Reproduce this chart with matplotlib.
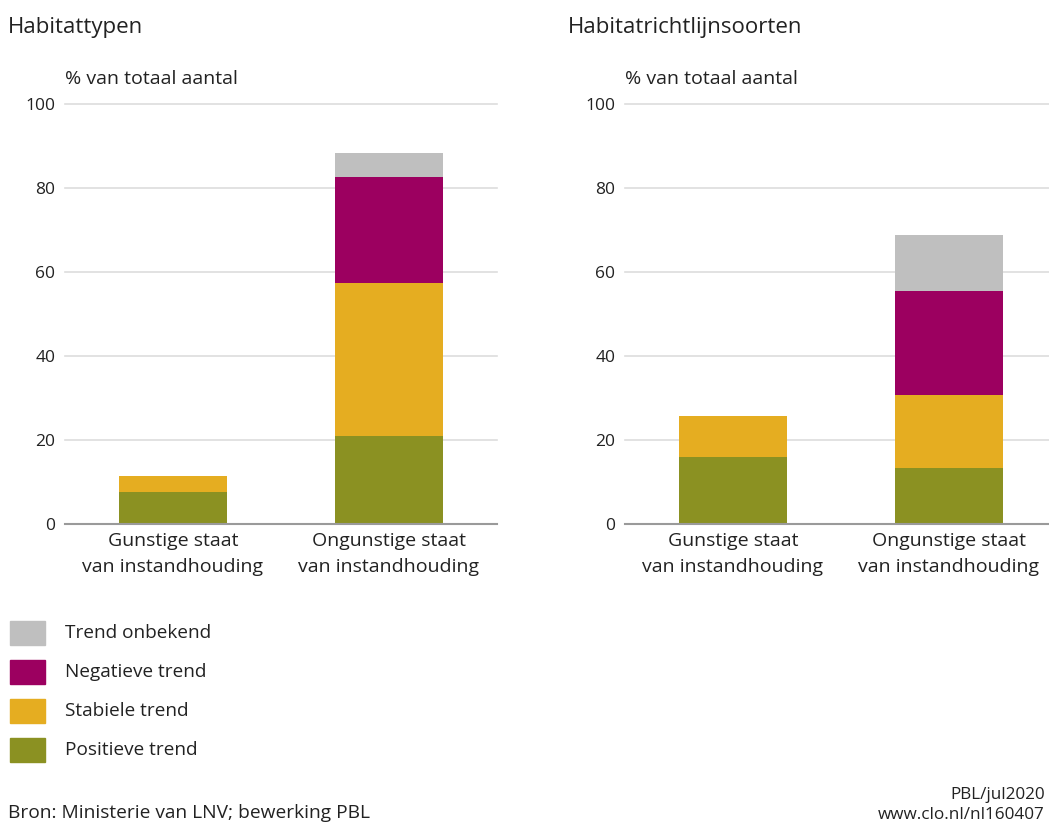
"""Staat van instandhouding: habitattypen en habitatrichtlijnsoorten."""

import numpy as np
import matplotlib.pyplot as plt

plt.rcParams["font.family"] = ["Open Sans", "DejaVu Sans"]

categories = ["Gunstige staat\nvan instandhouding", "Ongunstige staat\nvan instandhouding"]
series_names = ["Positieve trend", "Stabiele trend", "Negatieve trend", "Trend onbekend"]
colors = ["#8b9122", "#e5ad21", "#9c0060", "#bfbfbf"]

# values in % per category (Gunstig, Ongunstig)
habitattypen = {
    "Positieve trend": [7.6, 21.0],
    "Stabiele trend": [3.8, 36.4],
    "Negatieve trend": [0.0, 25.2],
    "Trend onbekend": [0.0, 5.7],
}
soorten = {
    "Positieve trend": [16.0, 13.3],
    "Stabiele trend": [9.7, 17.4],
    "Negatieve trend": [0.0, 24.8],
    "Trend onbekend": [0.0, 13.4],
}
yticks = [0, 20, 40, 60, 80, 100]

TEXT = "#222222"
W, H = 1049, 823


def draw_panel(ax, data):
    x = np.arange(len(categories))
    bottom = np.zeros(len(categories))
    for name, col in zip(series_names, colors):
        vals = np.array(data[name])
        ax.bar(x, vals, bottom=bottom, width=0.5, color=col, zorder=3)
        bottom += vals
    ax.set_xlim(-0.5, 1.5)
    ax.set_ylim(0, 100)
    ax.set_yticks(yticks)
    ax.set_xticks(x)
    ax.set_xticklabels(categories, fontsize=14, color=TEXT, linespacing=1.55)
    ax.tick_params(axis="y", length=0, pad=7, labelsize=12.5, labelcolor=TEXT)
    ax.tick_params(axis="x", length=0, pad=6)
    for s in ["top", "right", "left"]:
        ax.spines[s].set_visible(False)
    ax.spines["bottom"].set_color("#9a9a9a")
    ax.spines["bottom"].set_linewidth(1.5)
    ax.spines["bottom"].set_zorder(4)
    for t in yticks[1:]:
        ax.axhline(t, color="#dddddd", linewidth=1.2, zorder=1, clip_on=False)


fig = plt.figure(figsize=(W / 100, H / 100), dpi=100)

ax1 = fig.add_axes([65 / W, 299 / H, 432 / W, 420 / H])
ax2 = fig.add_axes([625 / W, 299 / H, 432 / W, 420 / H])
draw_panel(ax1, habitattypen)
draw_panel(ax2, soorten)

fig.text(8 / W, 1 - 27 / H, "Habitattypen", fontsize=16, color=TEXT, va="center")
fig.text(568 / W, 1 - 27 / H, "Habitatrichtlijnsoorten", fontsize=16, color=TEXT, va="center")
fig.text(65 / W, 1 - 79 / H, "% van totaal aantal", fontsize=14, color=TEXT, va="center")
fig.text(625 / W, 1 - 79 / H, "% van totaal aantal", fontsize=14, color=TEXT, va="center")

# legend
legend_rows = [633, 672, 711, 750]
for y, name, col in zip(legend_rows, series_names[::-1], colors[::-1]):
    fig.patches.append(plt.Rectangle((10 / W, 1 - (y + 12) / H), 35 / W, 24 / H,
                                     transform=fig.transFigure, color=col))
    fig.text(65 / W, 1 - y / H, name, fontsize=13.7, color=TEXT, va="center")

fig.text(8 / W, 1 - 813 / H, "Bron: Ministerie van LNV; bewerking PBL", fontsize=13.8, color=TEXT, va="center")
fig.text(1045 / W, 1 - 795 / H, "PBL/jul2020", fontsize=12.3, color=TEXT, va="center", ha="right")
fig.text(1045 / W, 1 - 815 / H, "www.clo.nl/nl160407", fontsize=12.3, color=TEXT, va="center", ha="right")

fig.savefig("out.png", dpi=100)
